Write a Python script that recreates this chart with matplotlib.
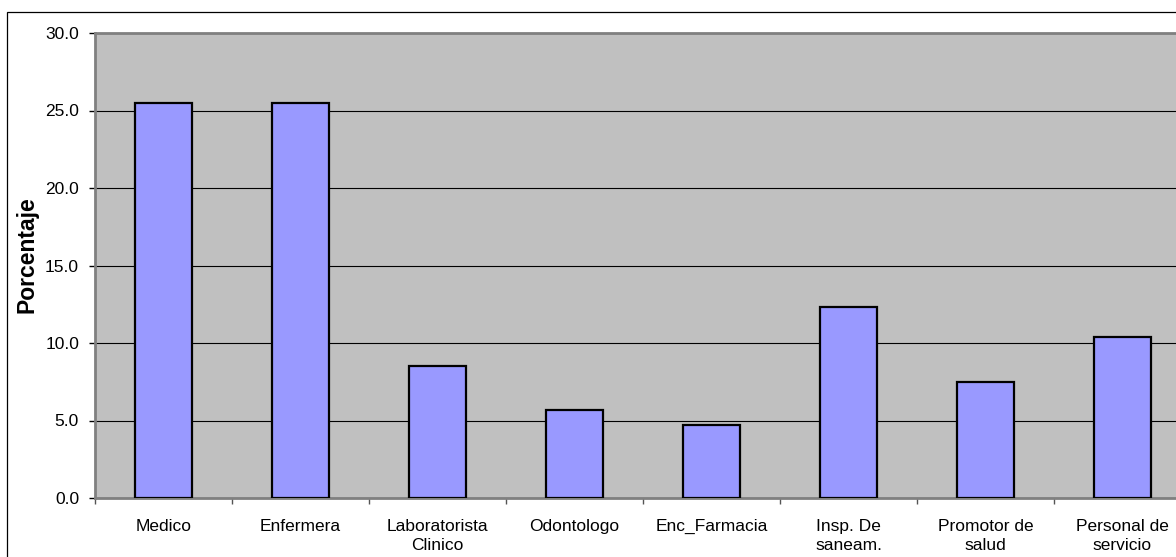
import matplotlib
matplotlib.use("Agg")
import matplotlib.pyplot as plt
from matplotlib.patches import Rectangle
from matplotlib.ticker import FormatStrFormatter, FixedLocator
import numpy as np

plt.rcParams['font.family'] = ['Liberation Sans', 'DejaVu Sans']

categories = ["Medico", "Enfermera", "Laboratorista\nClinico", "Odontologo",
              "Enc_Farmacia", "Insp. De\nsaneam.", "Promotor de\nsalud",
              "Personal de\nservicio"]
porcentaje = [25.5, 25.5, 8.5, 5.7, 4.7, 12.3, 7.5, 10.4]
y_ticks = [0, 5, 10, 15, 20, 25, 30]

W, H = 1176, 557
fig = plt.figure(figsize=(W / 100, H / 100), dpi=100)
fig.patch.set_facecolor("white")

# Outer chart frame (runs off the right and bottom edges)
fig.add_artist(Rectangle((7 / W, -0.2), 1.3, (H - 12) / H + 0.2,
                         transform=fig.transFigure, fill=False,
                         edgecolor="black", linewidth=0.9, clip_on=False))

# Plot area extends past the right edge of the canvas
left, right = 95 / W, 1191 / W
bottom, top = (H - 498) / H, (H - 33) / H
ax = fig.add_axes([left, bottom, right - left, top - bottom])
ax.set_facecolor("#C0C0C0")

x = np.arange(len(categories))
ax.bar(x, porcentaje, width=0.41, color="#9999FF", edgecolor="black",
       linewidth=1.6, zorder=3)

ax.set_xlim(-0.5, len(categories) - 0.5)
ax.set_ylim(0, 30)
ax.set_yticks(y_ticks)
ax.yaxis.set_major_formatter(FormatStrFormatter("%.1f"))
ax.yaxis.grid(True, color="black", linewidth=0.8, zorder=1)
ax.set_axisbelow(True)

ax.set_xticks(x)
ax.set_xticklabels(categories, linespacing=1.35)
ax.xaxis.set_minor_locator(FixedLocator(np.arange(-0.5, len(categories), 1.0)))
ax.tick_params(axis="x", which="major", length=0, pad=15, labelsize=12.5)
ax.tick_params(axis="x", which="minor", length=4.5, width=1, color="#555555",
               direction="out")
ax.tick_params(axis="y", length=4.5, width=1, color="black", pad=7,
               labelsize=12.5, direction="out")

for side in ("left", "bottom", "top"):
    ax.spines[side].set_color("#808080")
    ax.spines[side].set_linewidth(2)
ax.spines["right"].set_visible(False)

ax.set_ylabel("Porcentaje", fontsize=16.5, fontweight="bold")
ax.yaxis.set_label_coords((38 - 95) / 1096, (498 - 255) / 465)

fig.savefig("out.png", dpi=100)
